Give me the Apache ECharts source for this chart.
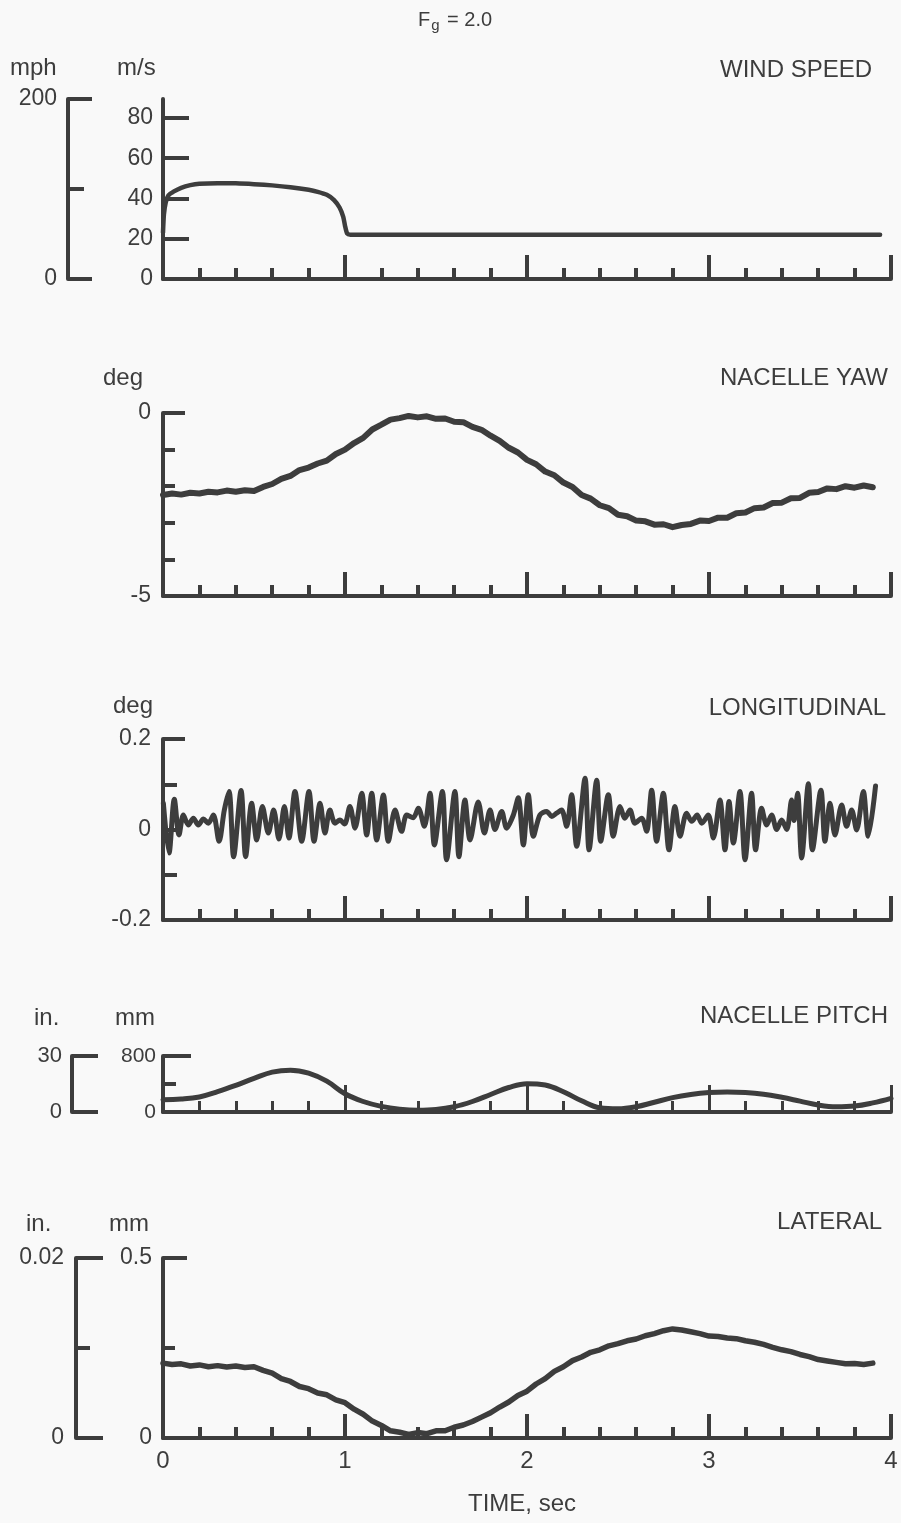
<!DOCTYPE html>
<html>
<head>
<meta charset="utf-8">
<script src="https://cdn.jsdelivr.net/npm/echarts@6/dist/echarts.min.js"></script>
<style>
  html, body { margin: 0; padding: 0; background: #f9f9f9; }
  #chart { width: 901px; height: 1523px; }
</style>
</head>
<body>
<div id="chart"></div>
<script>
// ---- Wind speed (m/s) ----
const windTime  = [0, 0.005, 0.015, 0.03, 0.06, 0.1, 0.15, 0.2, 0.3, 0.4, 0.5, 0.6, 0.7, 0.8, 0.85, 0.9, 0.94, 0.97, 0.99, 1.0, 1.012, 1.03, 2.0, 3.0, 3.94];
const windSpeed = [23, 32, 38, 41.5, 43.5, 45.3, 46.6, 47.3, 47.6, 47.5, 47.1, 46.5, 45.6, 44.3, 43.3, 41.8, 39.2, 35.5, 31, 26.5, 22.5, 22, 22, 22, 22];

// ---- Nacelle yaw (deg), sampled every 0.05 s from 0 to 3.90 s ----
const yawDeg = [
  -2.24, -2.20, -2.23, -2.18, -2.20, -2.15, -2.17, -2.12, -2.15, -2.11,
  -2.13, -2.02, -1.94, -1.80, -1.72, -1.56, -1.49, -1.38, -1.30, -1.12,
  -1.00, -0.82, -0.68, -0.45, -0.32, -0.18, -0.14, -0.08, -0.12, -0.09,
  -0.16, -0.15, -0.24, -0.25, -0.38, -0.46, -0.62, -0.76, -0.95, -1.08,
  -1.28, -1.40, -1.60, -1.70, -1.90, -2.02, -2.24, -2.34, -2.52, -2.60,
  -2.78, -2.82, -2.94, -2.96, -3.05, -3.04, -3.12, -3.06, -3.03, -2.94,
  -2.95, -2.86, -2.86, -2.74, -2.72, -2.60, -2.58, -2.46, -2.45, -2.33,
  -2.32, -2.18, -2.16, -2.06, -2.08, -2.00, -2.04, -1.98, -2.03
];

// ---- Longitudinal (deg): time (s) and value at each turning point ----
const longTime = [
  0.002, 0.033, 0.062, 0.088, 0.112, 0.139, 0.167, 0.194, 0.222, 0.249,
  0.277, 0.308, 0.337, 0.363, 0.388, 0.429, 0.454, 0.487, 0.515, 0.546,
  0.579, 0.608, 0.637, 0.667, 0.692, 0.725, 0.762, 0.802, 0.830, 0.863,
  0.890, 0.917, 0.945, 0.972, 0.998, 1.027, 1.055, 1.092, 1.119, 1.147,
  1.174, 1.211, 1.238, 1.275, 1.311, 1.339, 1.375, 1.403, 1.436, 1.467,
  1.491, 1.535, 1.558, 1.604, 1.626, 1.659, 1.687, 1.732, 1.766, 1.797,
  1.824, 1.861, 1.888, 1.925, 1.952, 1.980, 2.007, 2.035, 2.071, 2.108,
  2.136, 2.163, 2.190, 2.218, 2.245, 2.273, 2.319, 2.341, 2.383, 2.405,
  2.447, 2.474, 2.511, 2.538, 2.566, 2.593, 2.630, 2.657, 2.685, 2.712,
  2.749, 2.780, 2.813, 2.841, 2.877, 2.905, 2.935, 2.960, 2.996, 3.024,
  3.060, 3.088, 3.110, 3.134, 3.170, 3.198, 3.234, 3.256, 3.289, 3.317,
  3.344, 3.372, 3.399, 3.427, 3.454, 3.467, 3.487, 3.509, 3.546, 3.568,
  3.615, 3.637, 3.665, 3.692, 3.729, 3.756, 3.784, 3.811, 3.848, 3.875,
  3.915
];
const longDeg = [
  0.058, -0.052, 0.067, -0.012, 0.032, 0.010, 0.025, 0.010, 0.023, 0.014,
  0.032, -0.026, 0.043, 0.084, -0.060, 0.086, -0.060, 0.058, -0.023, 0.051,
  -0.008, 0.043, -0.021, 0.051, -0.019, 0.084, -0.026, 0.084, -0.026, 0.058,
  -0.008, 0.043, 0.014, 0.021, 0.012, 0.051, 0.003, 0.080, -0.012, 0.080,
  -0.023, 0.076, -0.026, 0.043, -0.004, 0.032, 0.026, 0.047, 0.007, 0.080,
  -0.034, 0.084, -0.067, 0.084, -0.060, 0.065, -0.023, 0.061, -0.008, 0.043,
  0.000, 0.040, 0.003, 0.032, 0.070, -0.034, 0.077, -0.015, 0.032, 0.040,
  0.029, 0.036, 0.043, 0.007, 0.077, -0.037, 0.113, -0.045, 0.109, -0.026,
  0.077, -0.015, 0.051, 0.025, 0.043, 0.014, 0.025, -0.004, 0.087, -0.026,
  0.080, -0.045, 0.051, -0.015, 0.036, 0.018, 0.032, 0.014, 0.032, -0.019,
  0.065, -0.045, 0.062, -0.030, 0.084, -0.067, 0.080, -0.045, 0.047, 0.010,
  0.032, 0.000, 0.021, 0.000, 0.065, 0.020, 0.080, -0.063, 0.101, -0.045,
  0.087, -0.026, 0.058, -0.012, 0.054, 0.007, 0.043, -0.001, 0.084, -0.015,
  0.096
];

// ---- Nacelle pitch (mm), sampled every 0.1 s from 0 to 4.0 s ----
const pitchMm = [
  175, 185, 215, 290, 380, 480, 570, 598, 555, 440,
  260, 150, 80, 40, 25, 35, 75, 150, 250, 350,
  405, 385, 290, 160, 60, 45, 75, 140, 205, 250,
  278, 287, 280, 255, 210, 155, 100, 75, 85, 130,
  195
];

// ---- Lateral (mm), sampled every 0.05 s from 0 to 3.90 s ----
const latMm = [
  0.208, 0.204, 0.206, 0.200, 0.203, 0.198, 0.201, 0.197, 0.200, 0.196,
  0.198, 0.188, 0.180, 0.165, 0.157, 0.143, 0.137, 0.125, 0.120, 0.106,
  0.098, 0.080, 0.066, 0.047, 0.035, 0.020, 0.016, 0.010, 0.015, 0.012,
  0.020, 0.020, 0.030, 0.036, 0.046, 0.058, 0.070, 0.086, 0.100, 0.118,
  0.130, 0.150, 0.165, 0.185, 0.198, 0.215, 0.225, 0.238, 0.245, 0.256,
  0.262, 0.270, 0.275, 0.284, 0.290, 0.298, 0.303, 0.300, 0.295, 0.290,
  0.283, 0.282, 0.278, 0.276, 0.270, 0.266, 0.260, 0.252, 0.245, 0.240,
  0.232, 0.226, 0.218, 0.214, 0.210, 0.206, 0.207, 0.204, 0.208
];

// ---- Axis tick labels ----
const timeLabels   = [0, 1, 2, 3, 4];
const windMsTicks  = [0, 20, 40, 60, 80];
const windMphTicks = [0, 200];
const yawTicks     = [-5, 0];
const longTicks    = [-0.2, 0, 0.2];
const pitchMmTicks = [0, 800];
const pitchInTicks = [0, 30];
const latMmTicks   = [0, 0.5];
const latInTicks   = [0, 0.02];

// sample times for the regularly sampled traces
const steps = (n, dt) => Array.from({ length: n }, (_, i) => +(i * dt).toFixed(3));
const pairs = (xs, ys) => ys.map((y, i) => [xs[i], y]);

const FONT = '"Liberation Sans", Arial, Helvetica, sans-serif';
const INK = '#3d3d3d';

const grids = [
  { left: 163, right: 10, top: 99,   height: 180 },
  { left: 163, right: 10, top: 413,  height: 183 },
  { left: 163, right: 10, top: 739,  height: 181 },
  { left: 163, right: 10, top: 1056, height: 56 },
  { left: 163, right: 10, top: 1258, height: 180 }
].map(g => Object.assign(g, { outerBoundsMode: 'none', containLabel: false }));

const xAxes = grids.map((g, i) => ({
  type: 'value', gridIndex: i, min: 0, max: 4, interval: 1,
  axisLine: { onZero: false, lineStyle: { color: INK, width: 4 } },
  axisTick: { inside: true, length: i === 3 ? 27 : 24, lineStyle: { color: INK, width: i === 3 ? 3 : 4 } },
  minorTick: { show: true, splitNumber: 5, length: 11, lineStyle: { color: INK, width: i === 3 ? 3 : 4 } },
  axisLabel: {
    show: i === 4, customValues: timeLabels, margin: 11,
    color: INK, fontSize: 24, fontFamily: FONT
  },
  splitLine: { show: false }
}));

const yAxes = [];
function addY(grid, min, max, o) {
  yAxes.push({
    type: 'value', gridIndex: grid, min, max, position: 'left', offset: o.offset || 0,
    axisLine: { show: o.line !== false, onZero: false, lineStyle: { color: INK, width: 4 } },
    axisTick: {
      show: !!o.ticks, inside: true, length: o.len || 20, customValues: o.ticks || [],
      lineStyle: { color: INK, width: 4 }
    },
    axisLabel: {
      show: !!o.labels, customValues: o.labels || [], margin: o.margin == null ? 10 : o.margin,
      color: INK, fontSize: o.fs || 23, fontFamily: FONT
    },
    splitLine: { show: false }
  });
  return yAxes.length - 1;
}

// wind speed: m/s scale with an mph bracket (200 mph = 89.4 m/s)
const yWind = addY(0, 0, 89.4, { labels: windMsTicks, ticks: [20, 40, 60, 80], len: 26 });
addY(0, 0, 200, { offset: 95, labels: windMphTicks, ticks: [0, 200], len: 24, margin: 11 });
addY(0, 0, 200, { offset: 95, line: false, ticks: [100], len: 16 });
// nacelle yaw
const yYaw = addY(1, -5, 0, { labels: yawTicks, ticks: [0], len: 22, margin: 12 });
addY(1, -5, 0, { line: false, ticks: [-1, -2, -3, -4], len: 12 });
// longitudinal
const yLong = addY(2, -0.2, 0.2, { labels: longTicks, ticks: [0.2], len: 22, margin: 12 });
addY(2, -0.2, 0.2, { line: false, ticks: [-0.1, 0, 0.1], len: 14 });
// nacelle pitch: mm with an inch bracket
const yPitch = addY(3, 0, 800, { labels: pitchMmTicks, ticks: [800], len: 28, fs: 21, margin: 7 });
addY(3, 0, 800, { line: false, ticks: [400], len: 13 });
addY(3, 0, 30, { offset: 91, labels: pitchInTicks, ticks: [0, 30], len: 26, fs: 22, margin: 10 });
// lateral: mm with an inch bracket
const yLat = addY(4, 0, 0.5, { labels: latMmTicks, ticks: [0.5], len: 24, margin: 11 });
addY(4, 0, 0.5, { line: false, ticks: [0.25], len: 12 });
addY(4, 0, 0.02, { offset: 87, labels: latInTicks, ticks: [0, 0.02], len: 27, margin: 12 });
addY(4, 0, 0.02, { offset: 87, line: false, ticks: [0.01], len: 14 });

const lineSeries = (grid, yIdx, data, width, smooth) => ({
  type: 'line', xAxisIndex: grid, yAxisIndex: yIdx, data,
  showSymbol: false, smooth, silent: true,
  lineStyle: { color: INK, width, join: 'round', cap: 'round' }
});

const txt = (text, pos, size) => Object.assign({
  text, padding: 0,
  textStyle: { fontSize: size || 24, fontWeight: 'normal', color: INK, fontFamily: FONT }
}, pos);

const option = {
  backgroundColor: '#f9f9f9',
  animation: false,
  title: [
    {
      text: '{a|F}{s|g}{a| = 2.0}', left: 418, top: 7, padding: 0,
      textStyle: {
        fontWeight: 'normal',
        rich: {
          a: { fontSize: 20, fontWeight: 'normal', color: INK, fontFamily: FONT, lineHeight: 26 },
          s: { fontSize: 15, fontWeight: 'normal', color: INK, fontFamily: FONT, lineHeight: 26, padding: [12, 2, 0, 1] }
        }
      }
    },
    txt('mph', { left: 10, top: 56 }),
    txt('m/s', { left: 117, top: 56 }),
    txt('WIND SPEED', { right: 29, top: 58 }),
    txt('deg', { left: 103, top: 366 }),
    txt('NACELLE YAW', { right: 13, top: 366 }),
    txt('deg', { left: 113, top: 694 }),
    txt('LONGITUDINAL', { right: 15, top: 696 }),
    txt('in.', { left: 34, top: 1006 }),
    txt('mm', { left: 115, top: 1006 }),
    txt('NACELLE PITCH', { right: 13, top: 1004 }),
    txt('in.', { left: 26, top: 1212 }),
    txt('mm', { left: 109, top: 1212 }),
    txt('LATERAL', { right: 19, top: 1210 }),
    txt('TIME, sec', { left: 468, top: 1492 })
  ],
  grid: grids,
  xAxis: xAxes,
  yAxis: yAxes,
  series: [
    lineSeries(0, yWind, pairs(windTime, windSpeed), 4.5, 0.2),
    lineSeries(1, yYaw, pairs(steps(yawDeg.length, 0.05), yawDeg), 6, false),
    lineSeries(2, yLong, pairs(longTime, longDeg), 5, 0.3),
    lineSeries(3, yPitch, pairs(steps(pitchMm.length, 0.1), pitchMm), 5, 0.4),
    lineSeries(4, yLat, pairs(steps(latMm.length, 0.05), latMm), 5.5, false)
  ]
};

echarts.init(document.getElementById('chart'), null, { renderer: 'canvas' }).setOption(option);
</script>
</body>
</html>
